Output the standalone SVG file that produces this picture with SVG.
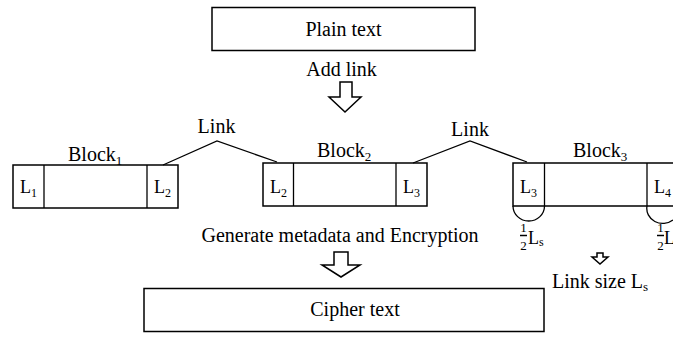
<svg xmlns="http://www.w3.org/2000/svg" width="673" height="341" viewBox="0 0 673 341" font-family="Liberation Serif, serif">
<style>
text{font-family:"Liberation Serif",serif;fill:#000}
.big{font-size:20px}
.lab{font-size:18px}
.frac{font-size:13px}
.box{fill:#fff;stroke:#000;stroke-width:1.5}
.ln{fill:none;stroke:#000;stroke-width:1.3}
.arr{fill:#fff;stroke:#000;stroke-width:1.5;stroke-linejoin:miter}
</style>
<rect width="673" height="341" fill="#fff"/>
<g id="plain">
<rect class="box" x="212" y="7.5" width="263" height="43"/>
<text class="big" font-family="Liberation Serif" x="343.5" y="36" text-anchor="middle">Plain text</text>
</g>
<g id="addlink">
<text class="big" font-family="Liberation Serif" x="341.5" y="76" text-anchor="middle">Add link</text>
<path class="arr" d="M340,82 H352 V97 H361 L345,112 L329,97 H340 Z"/>
</g>
<g id="block1">
<rect class="box" x="13" y="165" width="165" height="43"/>
<line class="ln" x1="44" y1="165" x2="44" y2="208"/>
<line class="ln" x1="147" y1="165" x2="147" y2="208"/>
<text class="big" font-family="Liberation Serif" x="68" y="161">Block<tspan font-size="13" dy="4">1</tspan></text>
<text class="lab" font-family="Liberation Serif" x="28.5" y="193" text-anchor="middle">L<tspan font-size="12" dy="4">1</tspan></text>
<text class="lab" font-family="Liberation Serif" x="162.5" y="193" text-anchor="middle">L<tspan font-size="12" dy="4">2</tspan></text>
</g>
<g id="block2">
<rect class="box" x="263" y="163" width="164" height="43"/>
<line class="ln" x1="293.5" y1="163" x2="293.5" y2="206"/>
<line class="ln" x1="396" y1="163" x2="396" y2="206"/>
<text class="big" font-family="Liberation Serif" x="317" y="157">Block<tspan font-size="13" dy="4">2</tspan></text>
<text class="lab" font-family="Liberation Serif" x="278.5" y="193" text-anchor="middle">L<tspan font-size="12" dy="4">2</tspan></text>
<text class="lab" font-family="Liberation Serif" x="411.5" y="193" text-anchor="middle">L<tspan font-size="12" dy="4">3</tspan></text>
</g>
<g id="block3">
<path class="box" d="M673,163 H513 V206 H673"/>
<line class="ln" x1="544.5" y1="163" x2="544.5" y2="206"/>
<line class="ln" x1="647" y1="163" x2="647" y2="206"/>
<text class="big" font-family="Liberation Serif" x="573" y="157">Block<tspan font-size="13" dy="4">3</tspan></text>
<text class="lab" font-family="Liberation Serif" x="528.5" y="193" text-anchor="middle">L<tspan font-size="12" dy="4">3</tspan></text>
<text class="lab" font-family="Liberation Serif" x="654" y="193">L<tspan font-size="12" dy="4">4</tspan></text>
<path class="ln" d="M513,206 A15.75,15 0 0 0 544.5,206"/>
<path class="ln" d="M647,206 A16,15 0 0 0 673,220"/>
</g>
<g id="halfls1">
<text class="frac" font-family="Liberation Serif" x="523.5" y="232" text-anchor="middle">1</text>
<line x1="520" y1="235.5" x2="527" y2="235.5" stroke="#000" stroke-width="1.5"/>
<text class="frac" font-family="Liberation Serif" x="523.5" y="250" text-anchor="middle">2</text>
<text class="lab" font-family="Liberation Serif" x="528" y="244">L<tspan font-size="12" dy="2">s</tspan></text>
</g>
<g id="halfls2">
<text class="frac" font-family="Liberation Serif" x="660.5" y="232" text-anchor="middle">1</text>
<line x1="657" y1="235.5" x2="664" y2="235.5" stroke="#000" stroke-width="1.5"/>
<text class="frac" font-family="Liberation Serif" x="660.5" y="250" text-anchor="middle">2</text>
<text class="lab" font-family="Liberation Serif" x="664" y="244">L</text>
</g>
<g id="linksize">
<path class="arr" d="M597,253 H603 V257 H608 L600,264 L592,257 H597 Z"/>
<text class="big" font-family="Liberation Serif" x="552" y="288">Link size L<tspan font-size="13" dy="3">s</tspan></text>
</g>
<g id="links">
<text class="big" font-family="Liberation Serif" x="216.5" y="133" text-anchor="middle">Link</text>
<polyline class="ln" points="163,165 217,141 277,162"/>
<text class="big" font-family="Liberation Serif" x="470" y="136" text-anchor="middle">Link</text>
<polyline class="ln" points="413,163 470,141 527,162"/>
</g>
<g id="generate">
<text class="big" font-family="Liberation Serif" font-size="19.5" x="340" y="242" text-anchor="middle">Generate metadata and Encryption</text>
<path class="arr" d="M334,252 H348 V265 H360 L341,277 L322,265 H334 Z"/>
</g>
<g id="cipher">
<rect class="box" x="144" y="288.5" width="400" height="43"/>
<text class="big" font-family="Liberation Serif" x="355" y="316" text-anchor="middle">Cipher text</text>
</g>
</svg>
